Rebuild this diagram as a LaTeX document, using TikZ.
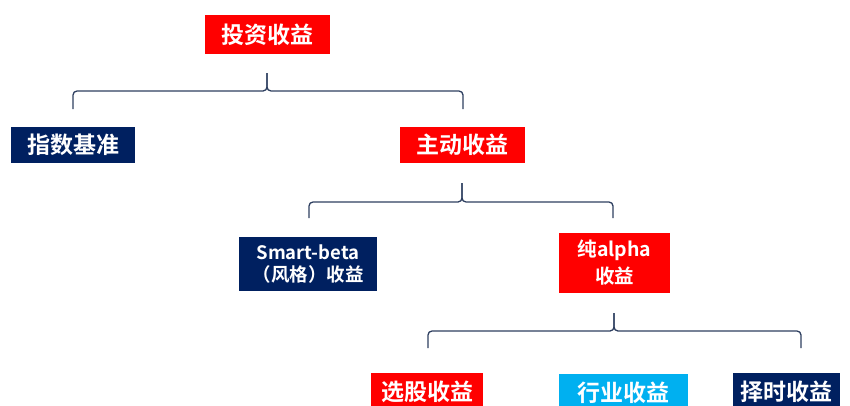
\documentclass[tikz,border=0pt]{standalone}
\usepackage{fontspec}
\setmainfont{Noto Sans CJK SC}[BoldFont={Noto Sans CJK SC Bold}]
\definecolor{cred}{HTML}{FF0000}
\definecolor{cnavy}{HTML}{002060}
\definecolor{cblue}{HTML}{00B0F0}
\definecolor{cline}{HTML}{2E3F60}
\tikzset{
  box/.style={inner sep=0pt, text=white, font=\bfseries\fontsize{23}{25}\selectfont, align=center},
  redbox/.style={box, fill=cred},
  navybox/.style={box, fill=cnavy},
  bluebox/.style={box, fill=cblue},
  brace/.style={draw=cline, line width=1.3pt, rounded corners=4pt}
}
\begin{document}
\begin{tikzpicture}[x=1pt,y=-1pt]
\useasboundingbox (0,0) rectangle (850,405);
\clip (0,0) rectangle (850,405);
% level 0
\node[redbox, minimum width=125pt, minimum height=39pt] (root) at (267.5,34.5) {投资收益};
% level 1
\node[navybox, minimum width=124pt, minimum height=36pt] (idx) at (73,145) {指数基准};
\node[redbox, minimum width=125pt, minimum height=36pt] (act) at (462.5,145) {主动收益};
% level 2
\node[navybox, minimum width=138pt, minimum height=54pt, font=\bfseries\fontsize{18.5}{22}\selectfont] (sb) at (308,264) {Smart-beta\\（风格）收益};
\node[redbox, minimum width=111pt, minimum height=60pt, font=\bfseries\fontsize{19.5}{27}\selectfont] (alpha) at (614.5,263) {纯alpha\\收益};
% level 3
\node[redbox, minimum width=112pt, minimum height=38pt] (stk) at (427,392) {选股收益};
\node[bluebox, minimum width=129pt, minimum height=38pt] (ind) at (623.5,393) {行业收益};
\node[navybox, minimum width=107pt, minimum height=38pt] (tim) at (786.5,392) {择时收益};
% brace coordinates
\coordinate (b1t) at (267,73);
\coordinate (b1l) at (73,109);
\coordinate (b1r) at (463,109);
\coordinate (b2t) at (462,183);
\coordinate (b2l) at (309,218);
\coordinate (b2r) at (613,218);
\coordinate (b3t) at (614,313);
\coordinate (b3l) at (428,348);
\coordinate (b3r) at (801,348);
% braces
\draw[brace] (b1l) -- (b1l |- 0,91) -- (b1t |- 0,91) -- (b1t);
\draw[brace] (b1r) -- (b1r |- 0,91) -- (b1t |- 0,91) -- (b1t);
\draw[brace] (b2l) -- (b2l |- 0,202) -- (b2t |- 0,202) -- (b2t);
\draw[brace] (b2r) -- (b2r |- 0,202) -- (b2t |- 0,202) -- (b2t);
\draw[brace] (b3l) -- (b3l |- 0,331) -- (b3t |- 0,331) -- (b3t);
\draw[brace] (b3r) -- (b3r |- 0,331) -- (b3t |- 0,331) -- (b3t);
\end{tikzpicture}
\end{document}
